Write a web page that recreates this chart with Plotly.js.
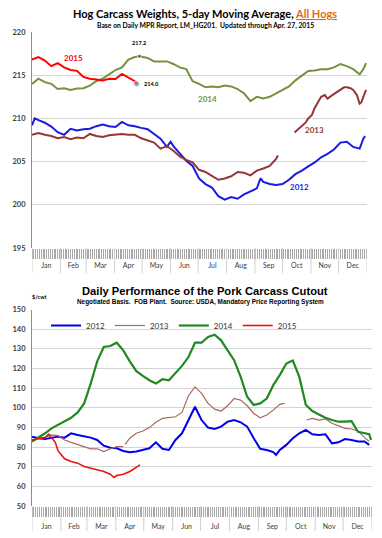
<!DOCTYPE html>
<html><head><meta charset="utf-8">
<script src="https://cdn.plot.ly/plotly-3.0.1.min.js"></script>
<style>html,body{margin:0;padding:0;background:#fff;}#chart{width:382px;height:538px;}</style>
</head><body><div id="chart"></div>
<script>
// ---------- shared ----------
const monthNames = ['Jan','Feb','Mar','Apr','May','Jun','Jul','Aug','Sep','Oct','Nov','Dec'];
const monthStarts = [0,31,59,90,120,151,181,212,243,273,304,334,365];
const yearNames = ['2012','2013','2014','2015'];

// ---------- Hog carcass weights (5-day MA, lbs) ----------
const wt2012Days = [0,3,7,14,21,28,35,42,49,56,63,70,77,84,91,98,105,112,119,126,133,140,147,151,154,161,168,175,182,189,196,203,210,217,224,231,238,245,249,252,259,266,273,280,287,294,301,308,315,322,329,336,343,350,357,361,363];
const wt2012 = [209.2,210.0,209.8,209.5,209.05,208.4,208.1,208.8,208.6,208.75,208.8,209.1,209.3,209.1,209.0,209.6,209.2,209.1,208.9,208.75,208.2,207.65,206.7,207.3,206.8,205.9,205.1,204.5,203.05,202.4,202.0,201.0,200.6,200.9,200.7,201.2,201.6,201.9,203.05,202.65,202.4,202.3,202.4,202.9,203.55,203.95,204.45,204.9,205.5,205.9,206.4,207.2,207.3,206.7,206.5,207.65,207.95];

const wt2013Days = [0,7,14,21,28,35,42,49,56,63,70,77,84,91,98,105,112,119,126,133,140,147,154,161,168,175,182,189,196,203,210,217,224,231,238,245,252,259,266,268,
  277,
  286,290,294,298,301,305,308,312,315,319,322,326,329,333,336,340,343,347,350,354,357,359,361,364];
const wt2013 = [208.1,208.3,208.1,207.97,207.7,207.85,207.6,207.8,207.7,208.2,207.97,207.85,208.05,208.1,208.2,208.1,208.1,207.7,207.45,207.2,206.5,206.8,206.25,205.6,205.2,204.9,204.05,203.8,203.35,202.9,203.05,203.3,203.8,203.7,203.4,203.95,204.2,204.5,205.3,205.7,
  null,
  208.36,208.75,209.2,209.5,210.0,210.4,211.2,212.0,212.5,212.7,212.3,212.6,212.8,213.05,213.3,213.6,213.6,213.5,213.3,212.7,211.7,211.9,212.5,213.3];

const wt2014Days = [0,7,14,21,28,35,42,49,56,63,70,77,84,91,98,105,112,117,126,133,140,147,154,161,168,175,182,189,196,203,210,217,224,231,238,245,252,259,266,273,280,287,294,301,308,315,322,329,336,343,350,357,361,364];
const wt2014 = [213.98,214.6,214.2,214.0,213.4,213.5,213.3,213.45,213.5,213.8,214.3,214.6,215.1,215.6,215.9,216.8,217.1,217.2,217.0,216.6,216.6,216.6,216.3,215.9,215.7,214.3,214.0,213.6,213.7,213.6,213.8,213.7,213.4,212.9,212.0,212.5,212.3,212.5,212.9,213.3,213.7,214.4,214.9,215.5,215.55,215.7,215.7,215.9,216.3,216.05,215.7,215.1,215.7,216.4];

const wt2015Days = [0,7,14,21,28,35,42,49,56,63,70,77,84,91,98,105,112,114];
const wt2015 = [216.8,217.1,216.7,216.05,216.4,215.9,215.6,215.5,214.8,214.6,214.5,214.4,214.6,214.55,215.15,214.7,214.3,214.0];

// highlighted points: 2014 peak and latest 2015
const wtMarkDays = [117,114];
const wtMarkVals = [217.2,214.0];

// line labels placed on the weight chart
const wtLabelDays = [291,308,191,45];
const wtLabelVals = [202.1,208.7,212.2,217.0];

// ---------- Pork carcass cutout ($/cwt) ----------
const co2012Days = [0,7,14,21,28,35,42,49,56,63,70,77,84,91,98,105,112,119,126,133,140,147,154,161,168,175,182,189,196,203,210,217,224,231,238,245,252,259,262,266,273,280,287,294,301,308,315,322,329,336,343,350,357,362];
const co2012 = [85.3,84.5,84.1,84.8,85.3,84.8,87.0,86.1,85.5,84.8,83.6,80.7,79.7,79.4,78.0,77.4,77.7,78.5,79.4,82.4,79.1,78.5,83.6,87.0,93.75,100.5,93.75,89.9,89.2,90.4,92.9,93.75,92.6,90.4,84.5,79.1,78.5,77.4,76.0,78.5,81.1,84.5,87.0,88.7,86.5,86.1,86.5,81.9,82.4,84.1,83.6,82.8,82.8,81.1];

const co2013Days = [0,7,14,21,28,35,42,49,56,63,70,77,84,91,98,
  99,
  100,105,112,119,126,133,140,147,154,161,168,175,182,189,196,203,210,217,224,231,238,245,252,259,266,271,
  283,
  295,301,308,315,322,329,336,343,350,357,362];
const co2013 = [83.6,84.5,85.0,86.2,85.8,83.6,82.4,81.4,80.2,79.1,79.1,77.7,79.1,80.2,80.2,
  null,
  81.4,84.5,87.0,88.2,89.9,92.6,94.6,94.9,95.4,97.6,106.1,110.6,107.3,102.2,99.3,98.3,101.0,104.7,103.9,101.0,97.1,94.9,96.3,98.8,101.7,102.2,
  null,
  93.75,94.6,93.75,94.3,92.1,90.9,89.5,89.2,88.2,84.8,82.8];

const co2014Days = [0,7,14,21,28,35,42,49,56,63,70,77,84,91,98,105,112,119,126,133,140,147,154,161,168,175,182,189,196,203,210,217,224,231,238,245,252,259,266,273,280,287,294,301,308,315,322,329,336,343,350,357,362,364];
const co2014 = [82.8,84.8,87.0,89.5,91.2,92.9,94.9,97.6,102.2,112.3,123.6,130.9,131.4,133.1,129.2,123.6,118.6,116.2,114.0,112.3,114.5,114.0,117.4,121.3,125.8,133.1,133.1,136.0,137.2,134.3,129.2,124.2,115.7,105.6,101.4,102.2,104.7,111.5,116.6,122.5,124.0,115.7,101.4,98.3,96.6,94.9,93.75,92.9,92.9,93.2,87.8,87.0,86.5,83.6];

const co2015Days = [0,7,14,18,21,25,28,35,42,49,56,63,70,77,84,88,91,98,105,112,116];
const co2015 = [83.6,84.1,84.8,86.5,84.8,82.4,78.0,74.0,72.6,71.8,70.1,69.3,68.4,67.6,66.2,64.5,65.5,66.2,67.6,69.6,70.9];

// ---------- styling ----------
const H = 538;
const topDom = [1-248/H, 1-32/H];
const botDom = [1-506/H, 1-309.5/H];
const wtColors = ['#1a1ae6','#953735','#76923c','#ff0000'];
const coColors = ['#0000ee','#a8685a','#1f8a1f','#ee1111'];
const coWidths = [2, 1.2, 2.2, 1.6];

const monthMid = monthNames.map((m,i)=> (monthStarts[i]+monthStarts[i+1])/2);

const traces = [];
const wtSeries = [[wt2012Days,wt2012],[wt2013Days,wt2013],[wt2014Days,wt2014],[wt2015Days,wt2015]];
wtSeries.forEach((s,i)=>{
  traces.push({x:s[0], y:s[1], type:'scatter', mode:'lines', xaxis:'x', yaxis:'y',
    line:{color:wtColors[i], width:2}, showlegend:false, name:yearNames[i], hoverinfo:'skip'});
});
traces.push({x:wtMarkDays, y:wtMarkVals, type:'scatter', mode:'markers', xaxis:'x', yaxis:'y',
  marker:{color:['#4f6228','#7f7f9f'], size:[4,6]}, showlegend:false, hoverinfo:'skip'});

const coSeries = [[co2012Days,co2012],[co2013Days,co2013],[co2014Days,co2014],[co2015Days,co2015]];
coSeries.forEach((s,i)=>{
  traces.push({x:s[0], y:s[1], type:'scatter', mode:'lines', xaxis:'x2', yaxis:'y2',
    line:{color:coColors[i], width:coWidths[i]}, name:yearNames[i], showlegend:true, hoverinfo:'skip'});
});

const tickFont = {family:'Lato', size:7.5, color:'#404040', weight:700};
function xAxis(dom, anchor, standoff){
  return {domain:dom, anchor:anchor, range:[0,365], showgrid:false, zeroline:false, showline:false,
    tickmode:'array', tickvals:monthMid, ticktext:monthNames, ticks:'', ticklabelstandoff:standoff,
    tickfont:{family:'Lato', size:7, color:'#404040'},
    minor:{tickmode:'linear', tick0:0, dtick:2, ticks:'outside', ticklen:10, tickcolor:'#a8a8a8', tickwidth:1, showgrid:false}};
}

const shapes = [];
[[topDom,'x'],[botDom,'x2']].forEach(([dom,xr])=>{
  monthStarts.forEach(b=>{
    shapes.push({type:'line', xref:xr, yref:'paper', x0:b, x1:b, y0:dom[0], y1:dom[0]-25/H,
      line:{color:'#d0d0d0', width:1}});
  });
});

const annotations = [
  {xref:'paper', yref:'paper', x:205/382, y:1-14/H, showarrow:false, xanchor:'center', yanchor:'middle',
   text:"Hog Carcass Weights, 5-day Moving Average, <span style='color:#e46c0a'><u>All Hogs</u></span>",
   font:{family:'Lato', size:11, color:'#000', weight:700}},
  {xref:'paper', yref:'paper', x:205/382, y:1-25.5/H, showarrow:false, xanchor:'center', yanchor:'middle',
   text:'Base on Daily MPR Report, LM_HG201.  Updated through Apr. 27, 2015',
   font:{family:'Lato', size:6.8, color:'#000', weight:700}},
  {xref:'paper', yref:'paper', x:204.5/382, y:1-290.5/H, showarrow:false, xanchor:'center', yanchor:'middle',
   text:'Daily Performance of the Pork Carcass Cutout',
   font:{family:'Liberation Sans', size:11.2, color:'#000', weight:700}},
  {xref:'paper', yref:'paper', x:200/382, y:1-302/H, showarrow:false, xanchor:'center', yanchor:'middle',
   text:'Negotiated Basis.  FOB Plant.  Source: USDA, Mandatory Price Reporting System',
   font:{family:'Liberation Sans', size:6.4, color:'#000', weight:700}},
  {xref:'paper', yref:'paper', x:30/382, y:1-297/H, showarrow:false, xanchor:'left', yanchor:'middle',
   text:'$/cwt', font:{family:'Lato', size:5.5, color:'#000', weight:700}},
];
wtLabelDays.forEach((d,i)=>{
  annotations.push({xref:'x', yref:'y', x:d, y:wtLabelVals[i], showarrow:false, xanchor:'center', yanchor:'middle',
    text:yearNames[i], font:{family:'Lato', size:8, color:wtColors[i], weight:700}});
});
annotations.push({xref:'x', yref:'y', x:wtMarkDays[0], y:wtMarkVals[0], showarrow:false, yshift:13,
  text:wtMarkVals[0].toFixed(1), font:{family:'Lato', size:5.5, color:'#000', weight:700}});
annotations.push({xref:'x', yref:'y', x:wtMarkDays[1], y:wtMarkVals[1], showarrow:false, xanchor:'left', xshift:5,
  text:wtMarkVals[1].toFixed(1), font:{family:'Lato', size:5.5, color:'#000', weight:700}});

const layout = {
  width:382, height:538, margin:{l:0,r:0,t:0,b:0}, paper_bgcolor:'#fff', plot_bgcolor:'#fff',
  font:{family:'Lato'},
  xaxis: xAxis([32/382, 367/382], 'y', 12),
  yaxis: {domain:topDom, anchor:'x', range:[195,220], dtick:5, tick0:195, showgrid:true, gridcolor:'#d4d4d4', gridwidth:1,
    zeroline:false, showline:true, linecolor:'#8c8c8c', linewidth:1, ticks:'', ticklabelstandoff:4, tickfont:tickFont},
  xaxis2: xAxis([32/382, 372/382], 'y2', 15),
  yaxis2: {domain:botDom, anchor:'x2', range:[50,150], dtick:10, tick0:50, showgrid:true, gridcolor:'#d4d4d4', gridwidth:1,
    zeroline:false, showline:true, linecolor:'#8c8c8c', linewidth:1, ticks:'', ticklabelstandoff:4, tickfont:tickFont},
  showlegend:true,
  legend:{orientation:'h', x:46/382, xanchor:'left', y:1-311/H, yanchor:'top', bgcolor:'rgba(0,0,0,0)',
    font:{family:'Lato', size:8, color:'#333'}, itemwidth:30, tracegroupgap:0},
  shapes:shapes, annotations:annotations
};

Plotly.newPlot('chart', traces, layout, {staticPlot:true, displayModeBar:false});
</script></body></html>
